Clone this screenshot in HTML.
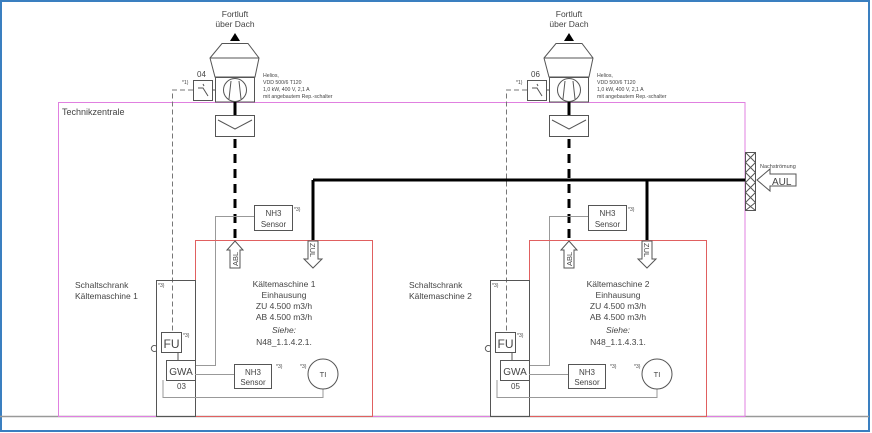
<!DOCTYPE html>
<html><head><meta charset="utf-8"><style>
html,body{margin:0;padding:0;background:#fff}
svg{display:block}
text{font-family:"Liberation Sans",sans-serif;fill:#444}
</style></head><body>
<svg width="872" height="433" viewBox="0 0 872 433" xmlns="http://www.w3.org/2000/svg">
<rect x="1" y="1" width="868" height="430" fill="none" stroke="#3a7fc0" stroke-width="2"/>
<line x1="0" y1="416.5" x2="869" y2="416.5" stroke="#999" stroke-width="1.5"/>
<rect x="58.5" y="102.5" width="686.5" height="314" fill="none" stroke="#e080e0" stroke-width="1"/>
<text x="62" y="115" font-size="9">Technikzentrale</text>
<!-- main duct -->
<line x1="313" y1="180" x2="747" y2="180" stroke="#000" stroke-width="3"/>
<!-- grille -->
<g stroke="#555" stroke-width="1" fill="#fff">
<rect x="745.5" y="152.5" width="10" height="58"/>
<path d="M745.5 152.5 L755.5 162.5 M755.5 152.5 L745.5 162.5 M745.5 162.5 L755.5 172.5 M755.5 162.5 L745.5 172.5 M745.5 172.5 L755.5 182.5 M755.5 172.5 L745.5 182.5 M745.5 182.5 L755.5 192.5 M755.5 182.5 L745.5 192.5 M745.5 192.5 L755.5 202.5 M755.5 192.5 L745.5 202.5 M745.5 202.5 L755.5 210.5 M755.5 202.5 L745.5 210.5"/>
<path d="M757 180 L770 169 L770 174 L796 174 L796 186 L770 186 L770 191 Z"/>
</g>
<text x="760" y="168" font-size="5.5">Nachströmung</text>
<text x="772" y="185" font-size="10">AUL</text>

<g id="u">
<text x="235" y="17" font-size="8.5" text-anchor="middle">Fortluft</text>
<text x="235" y="27" font-size="8.5" text-anchor="middle">über Dach</text>
<polygon points="235,33 230,41 240,41" fill="#000"/>
<g stroke="#555" stroke-width="1" fill="#fff">
<polygon points="222,43.5 248,43.5 259,58 255,77 215,77 210,58"/>
<line x1="210" y1="58" x2="259" y2="58"/>
<rect x="215.5" y="77.5" width="39" height="24.5"/>
<circle cx="235" cy="90" r="11.5"/>
<path d="M231 81 L229 99 M239 81 L241 99"/>
<rect x="193.5" y="80.5" width="19" height="20"/>
<path d="M198 88 L203 88 L208 96 M203 84 L204 86"/>
<line x1="212.5" y1="90" x2="215.5" y2="90"/>
<rect x="215.5" y="115.5" width="39" height="21"/>
<path d="M218 120 L235 129 L252 120" fill="none"/>
</g>
<text x="197" y="77" font-size="8">04</text>
<text x="182" y="84" font-size="5">*1)</text>
<text x="263" y="77" font-size="5.2">Helios,</text>
<text x="263" y="84" font-size="5.2">VDD 500/6 T120</text>
<text x="263" y="91" font-size="5.2">1,0 kW, 400 V, 2,1 A</text>
<text x="263" y="98" font-size="5.2">mit angebautem Rep.-schalter</text>
<path d="M193 90 L172.5 90 L172.5 333" fill="none" stroke="#777" stroke-width="1" stroke-dasharray="5,3"/>
<line x1="235" y1="102" x2="235" y2="115" stroke="#000" stroke-width="3"/>
<line x1="235" y1="139" x2="235" y2="240" stroke="#000" stroke-width="3" stroke-dasharray="9,6"/>
<line x1="313" y1="180" x2="313" y2="240" stroke="#000" stroke-width="3"/>
<!-- upper sensor -->
<path d="M254 216.5 L215.5 216.5 L215.5 365.5 L195 365.5" fill="none" stroke="#999" stroke-width="1"/>
<rect x="254.5" y="205.5" width="38" height="25" fill="#fff" stroke="#555"/>
<text x="273.5" y="216" font-size="8" text-anchor="middle">NH3</text>
<text x="273.5" y="227" font-size="8" text-anchor="middle">Sensor</text>
<text x="294" y="211" font-size="5">*3)</text>
<rect x="195.5" y="240.5" width="177" height="176" fill="none" stroke="#e06060" stroke-width="1"/>
<g stroke="#555" fill="#fff">
<polygon points="235,241 243,250 240,250 240,268 230,268 230,250 227,250"/>
<polygon points="313,268 322,259 318,259 318,241 308,241 308,259 304,259"/>
</g>
<text transform="translate(238,266) rotate(-90)" font-size="7.5">ABL</text>
<text transform="translate(310,243) rotate(90)" font-size="7.5">ZUL</text>
<text x="284" y="287" font-size="8.5" text-anchor="middle">Kältemaschine 1</text>
<text x="284" y="298" font-size="8.5" text-anchor="middle">Einhausung</text>
<text x="284" y="309" font-size="8.5" text-anchor="middle">ZU 4.500 m3/h</text>
<text x="284" y="320" font-size="8.5" text-anchor="middle">AB 4.500 m3/h</text>
<text x="284" y="333" font-size="8.5" text-anchor="middle" font-style="italic">Siehe:</text>
<text x="284" y="345" font-size="8.5" text-anchor="middle">N48_1.1.4.2.1.</text>
<text x="75" y="288" font-size="8.5">Schaltschrank</text>
<text x="75" y="299" font-size="8.5">Kältemaschine 1</text>
<rect x="156.5" y="280.5" width="39" height="136" fill="none" stroke="#555"/>
<text x="158" y="287" font-size="5">*3)</text>
<path d="M163 380 L163 397.5 L323 397.5 L323 389" fill="none" stroke="#999"/>
<path d="M178 352 L178 360" stroke="#555"/>
<rect x="161.5" y="332.5" width="20" height="20" fill="#fff" stroke="#555"/>
<text x="171.5" y="348" font-size="12" text-anchor="middle">FU</text>
<text x="183" y="337" font-size="5">*3)</text>
<path d="M156 346 A3 3 0 1 0 156 351" fill="none" stroke="#555"/>
<rect x="166.5" y="360.5" width="29" height="20" fill="#fff" stroke="#555"/>
<text x="181" y="375" font-size="10" text-anchor="middle">GWA</text>
<text x="177" y="389" font-size="8">03</text>
<line x1="195" y1="374.5" x2="234" y2="374.5" stroke="#999"/>
<rect x="234.5" y="364.5" width="37" height="24" fill="#fff" stroke="#555"/>
<text x="253" y="375" font-size="8" text-anchor="middle">NH3</text>
<text x="253" y="385" font-size="8" text-anchor="middle">Sensor</text>
<text x="276" y="368" font-size="5">*3)</text>
<circle cx="323" cy="374" r="15" fill="#fff" stroke="#555"/>
<text x="323" y="377" font-size="7.5" text-anchor="middle">TI</text>
<text x="300" y="368" font-size="5">*3)</text>
</g>

<g transform="translate(334,0)">
<text x="235" y="17" font-size="8.5" text-anchor="middle">Fortluft</text>
<text x="235" y="27" font-size="8.5" text-anchor="middle">über Dach</text>
<polygon points="235,33 230,41 240,41" fill="#000"/>
<g stroke="#555" stroke-width="1" fill="#fff">
<polygon points="222,43.5 248,43.5 259,58 255,77 215,77 210,58"/>
<line x1="210" y1="58" x2="259" y2="58"/>
<rect x="215.5" y="77.5" width="39" height="24.5"/>
<circle cx="235" cy="90" r="11.5"/>
<path d="M231 81 L229 99 M239 81 L241 99"/>
<rect x="193.5" y="80.5" width="19" height="20"/>
<path d="M198 88 L203 88 L208 96 M203 84 L204 86"/>
<line x1="212.5" y1="90" x2="215.5" y2="90"/>
<rect x="215.5" y="115.5" width="39" height="21"/>
<path d="M218 120 L235 129 L252 120" fill="none"/>
</g>
<text x="197" y="77" font-size="8">06</text>
<text x="182" y="84" font-size="5">*1)</text>
<text x="263" y="77" font-size="5.2">Helios,</text>
<text x="263" y="84" font-size="5.2">VDD 500/6 T120</text>
<text x="263" y="91" font-size="5.2">1,0 kW, 400 V, 2,1 A</text>
<text x="263" y="98" font-size="5.2">mit angebautem Rep.-schalter</text>
<path d="M193 90 L172.5 90 L172.5 333" fill="none" stroke="#777" stroke-width="1" stroke-dasharray="5,3"/>
<line x1="235" y1="102" x2="235" y2="115" stroke="#000" stroke-width="3"/>
<line x1="235" y1="139" x2="235" y2="240" stroke="#000" stroke-width="3" stroke-dasharray="9,6"/>
<line x1="313" y1="180" x2="313" y2="240" stroke="#000" stroke-width="3"/>
<path d="M254 216.5 L215.5 216.5 L215.5 365.5 L195 365.5" fill="none" stroke="#999" stroke-width="1"/>
<rect x="254.5" y="205.5" width="38" height="25" fill="#fff" stroke="#555"/>
<text x="273.5" y="216" font-size="8" text-anchor="middle">NH3</text>
<text x="273.5" y="227" font-size="8" text-anchor="middle">Sensor</text>
<text x="294" y="211" font-size="5">*3)</text>
<rect x="195.5" y="240.5" width="177" height="176" fill="none" stroke="#e06060" stroke-width="1"/>
<g stroke="#555" fill="#fff">
<polygon points="235,241 243,250 240,250 240,268 230,268 230,250 227,250"/>
<polygon points="313,268 322,259 318,259 318,241 308,241 308,259 304,259"/>
</g>
<text transform="translate(238,266) rotate(-90)" font-size="7.5">ABL</text>
<text transform="translate(310,243) rotate(90)" font-size="7.5">ZUL</text>
<text x="284" y="287" font-size="8.5" text-anchor="middle">Kältemaschine 2</text>
<text x="284" y="298" font-size="8.5" text-anchor="middle">Einhausung</text>
<text x="284" y="309" font-size="8.5" text-anchor="middle">ZU 4.500 m3/h</text>
<text x="284" y="320" font-size="8.5" text-anchor="middle">AB 4.500 m3/h</text>
<text x="284" y="333" font-size="8.5" text-anchor="middle" font-style="italic">Siehe:</text>
<text x="284" y="345" font-size="8.5" text-anchor="middle">N48_1.1.4.3.1.</text>
<text x="75" y="288" font-size="8.5">Schaltschrank</text>
<text x="75" y="299" font-size="8.5">Kältemaschine 2</text>
<rect x="156.5" y="280.5" width="39" height="136" fill="none" stroke="#555"/>
<text x="158" y="287" font-size="5">*3)</text>
<path d="M163 380 L163 397.5 L323 397.5 L323 389" fill="none" stroke="#999"/>
<path d="M178 352 L178 360" stroke="#555"/>
<rect x="161.5" y="332.5" width="20" height="20" fill="#fff" stroke="#555"/>
<text x="171.5" y="348" font-size="12" text-anchor="middle">FU</text>
<text x="183" y="337" font-size="5">*3)</text>
<path d="M156 346 A3 3 0 1 0 156 351" fill="none" stroke="#555"/>
<rect x="166.5" y="360.5" width="29" height="20" fill="#fff" stroke="#555"/>
<text x="181" y="375" font-size="10" text-anchor="middle">GWA</text>
<text x="177" y="389" font-size="8">05</text>
<line x1="195" y1="374.5" x2="234" y2="374.5" stroke="#999"/>
<rect x="234.5" y="364.5" width="37" height="24" fill="#fff" stroke="#555"/>
<text x="253" y="375" font-size="8" text-anchor="middle">NH3</text>
<text x="253" y="385" font-size="8" text-anchor="middle">Sensor</text>
<text x="276" y="368" font-size="5">*3)</text>
<circle cx="323" cy="374" r="15" fill="#fff" stroke="#555"/>
<text x="323" y="377" font-size="7.5" text-anchor="middle">TI</text>
<text x="300" y="368" font-size="5">*3)</text>
</g>
</svg>
</body></html>
